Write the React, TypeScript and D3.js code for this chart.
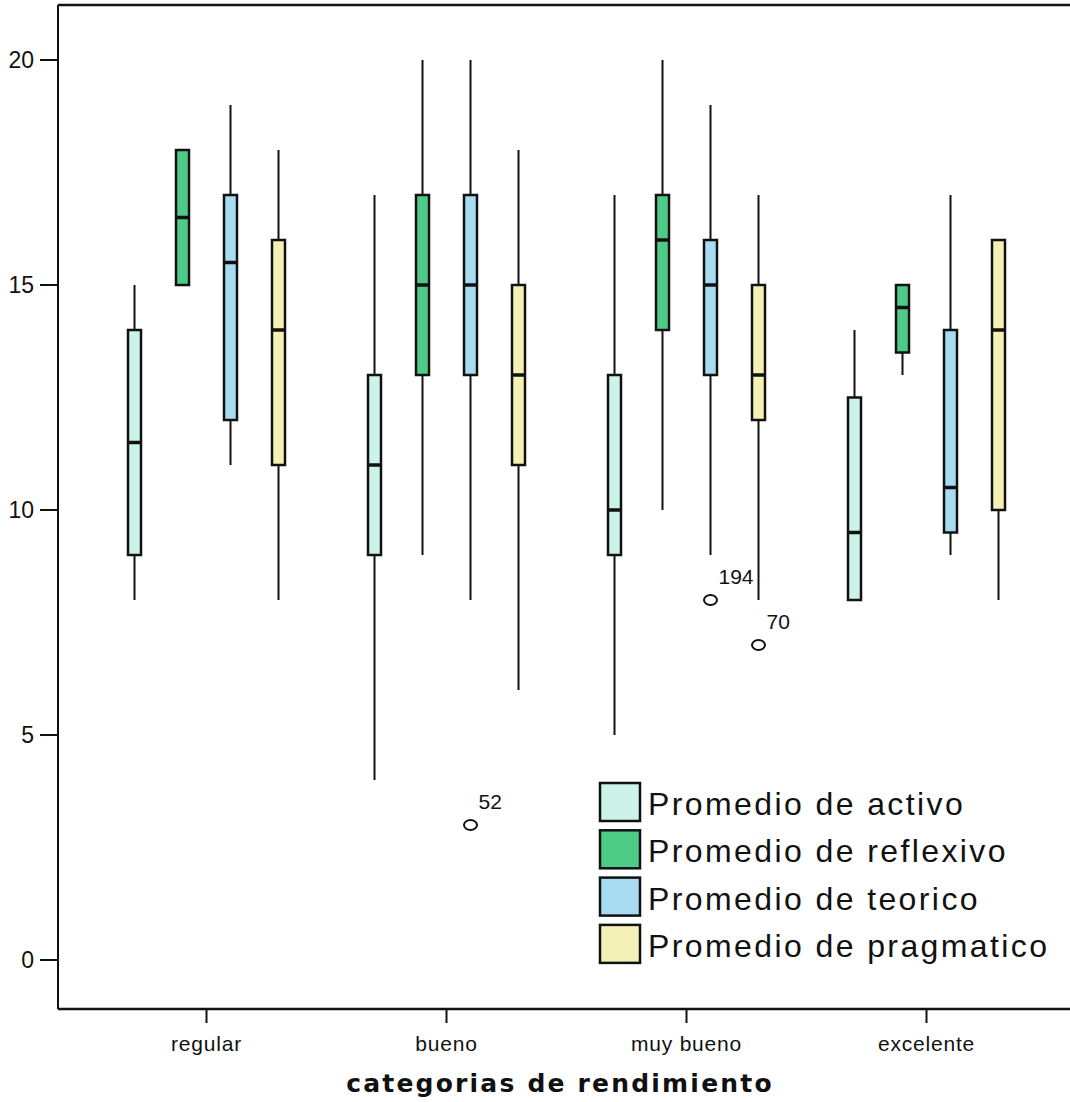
import React from "react";
import * as d3 from "d3";

const categories = ["regular", "bueno", "muy bueno", "excelente"];
const seriesNames = [
  "Promedio de activo",
  "Promedio de reflexivo",
  "Promedio de teorico",
  "Promedio de pragmatico",
];
const seriesColors = ["#cdf3e8", "#4ecb86", "#a6dbf0", "#f4f1b6"];

// per series, values per category
const mins = [
  [8, 4, 5, 8],
  [15, 9, 10, 13],
  [11, 8, 9, 9],
  [8, 6, 8, 8],
];
const q1s = [
  [9, 9, 9, 8],
  [15, 13, 14, 13.5],
  [12, 13, 13, 9.5],
  [11, 11, 12, 10],
];
const medians = [
  [11.5, 11, 10, 9.5],
  [16.5, 15, 16, 14.5],
  [15.5, 15, 15, 10.5],
  [14, 13, 13, 14],
];
const q3s = [
  [14, 13, 13, 12.5],
  [18, 17, 17, 15],
  [17, 17, 16, 14],
  [16, 15, 15, 16],
];
const maxs = [
  [15, 17, 17, 14],
  [18, 20, 20, 15],
  [19, 20, 19, 17],
  [18, 18, 17, 16],
];

const outlierCats = ["bueno", "muy bueno", "muy bueno"];
const outlierSeries = [2, 2, 3];
const outlierValues = [3, 8, 7];
const outlierLabels = ["52", "194", "70"];

const yTicks = [0, 5, 10, 15, 20];

const W = 1070;
const H = 1102;

export default function App() {
  const left = 58;
  const top = 5;
  const bottom = 1009;
  const right = 1070;

  const y = d3.scaleLinear().domain([0, 20]).range([960, 60]);
  const x = d3.scaleBand().domain(categories).range([86.5, 1046.5]).padding(0);
  const sub = d3
    .scalePoint<number>()
    .domain([0, 1, 2, 3])
    .range([-72, 72]);
  const cx = (cat: string, s: number) => (x(cat) as number) + x.bandwidth() / 2 + (sub(s) as number);
  const bw = 13;
  const font = "'Liberation Sans', Arial, sans-serif";

  return (
    <svg
      width={W}
      height={H}
      style={{ position: "absolute", left: 0, top: 0, background: "#fff" }}
    >
      <rect x={0} y={0} width={W} height={H} fill="#fff" />
      {/* frame */}
      <line x1={left} x2={right} y1={top} y2={top} stroke="#111" strokeWidth={2.5} />
      <line x1={left} x2={left} y1={top} y2={bottom} stroke="#111" strokeWidth={2} />
      <line x1={left} x2={right} y1={bottom} y2={bottom} stroke="#111" strokeWidth={2.5} />

      {/* y axis */}
      {yTicks.map((t) => (
        <g key={t}>
          <line x1={40} x2={left} y1={y(t)} y2={y(t)} stroke="#111" strokeWidth={2} />
          <text
            x={34}
            y={y(t)}
            dy="0.36em"
            textAnchor="end"
            fontFamily={font}
            fontSize={23}
            fill="#111"
          >
            {t}
          </text>
        </g>
      ))}

      {/* x axis */}
      {categories.map((c) => {
        const px = (x(c) as number) + x.bandwidth() / 2;
        return (
          <g key={c}>
            <line x1={px} x2={px} y1={bottom} y2={bottom + 14} stroke="#111" strokeWidth={2} />
            <text
              x={px}
              y={1051}
              textAnchor="middle"
              fontFamily={font}
              fontSize={21}
              letterSpacing={0.8}
              fill="#111"
            >
              {c}
            </text>
          </g>
        );
      })}
      <text
        x={560}
        y={1092}
        textAnchor="middle"
        fontFamily="'DejaVu Sans', Verdana, sans-serif"
        fontWeight="bold"
        fontSize={25}
        letterSpacing={2.2}
        fill="#111"
      >
        categorias de rendimiento
      </text>

      {/* boxes */}
      {seriesNames.map((sn, s) => (
        <g key={sn}>
          {categories.map((c, i) => {
            const px = cx(c, s);
            return (
              <g key={c}>
                {maxs[s][i] > q3s[s][i] && (
                  <line x1={px} x2={px} y1={y(maxs[s][i])} y2={y(q3s[s][i])} stroke="#111" strokeWidth={2} />
                )}
                {mins[s][i] < q1s[s][i] && (
                  <line x1={px} x2={px} y1={y(q1s[s][i])} y2={y(mins[s][i])} stroke="#111" strokeWidth={2} />
                )}
                <rect
                  x={px - bw / 2}
                  y={y(q3s[s][i])}
                  width={bw}
                  height={y(q1s[s][i]) - y(q3s[s][i])}
                  fill={seriesColors[s]}
                  stroke="#111"
                  strokeWidth={2.5}
                />
                <line
                  x1={px - bw / 2}
                  x2={px + bw / 2}
                  y1={y(medians[s][i])}
                  y2={y(medians[s][i])}
                  stroke="#111"
                  strokeWidth={3.5}
                />
              </g>
            );
          })}
        </g>
      ))}

      {/* outliers */}
      {outlierValues.map((v, k) => {
        const px = cx(outlierCats[k], outlierSeries[k]);
        const py = y(v);
        return (
          <g key={k}>
            <ellipse cx={px} cy={py} rx={6.5} ry={5} fill="none" stroke="#111" strokeWidth={2} />
            <text x={px + 8} y={py - 16} fontFamily={font} fontSize={21} fill="#111">
              {outlierLabels[k]}
            </text>
          </g>
        );
      })}

      {/* legend */}
      {seriesNames.map((sn, s) => {
        const ty = 783 + s * 47.3;
        return (
          <g key={sn}>
            <rect x={600} y={ty} width={40} height={38} fill={seriesColors[s]} stroke="#111" strokeWidth={2.5} />
            <text x={648} y={ty + 32} fontFamily={font} fontSize={32} letterSpacing={2.4} fill="#111">
              {sn}
            </text>
          </g>
        );
      })}
    </svg>
  );
}
